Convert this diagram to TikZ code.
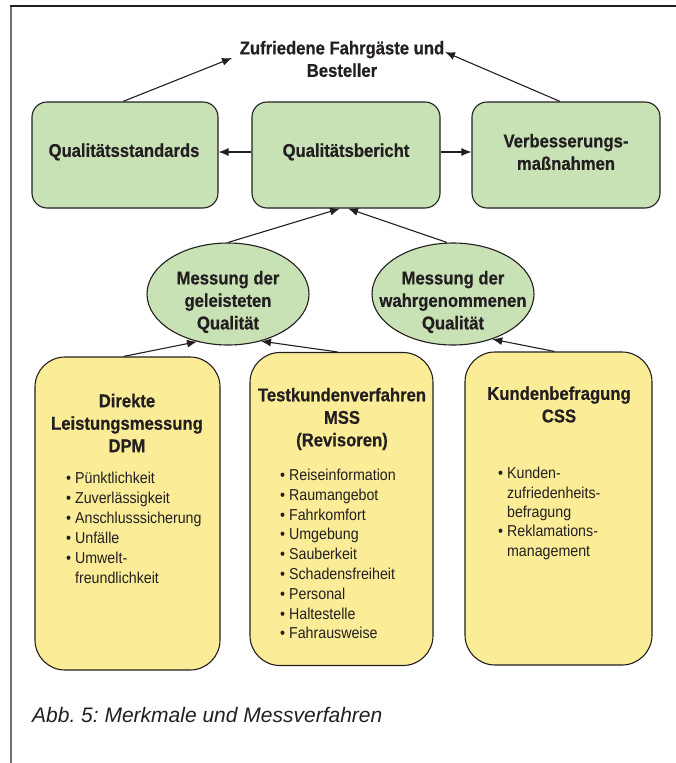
\documentclass[tikz,border=0pt]{standalone}
\usepackage{fontspec}
\newfontfamily\dfont{Liberation Sans}[FakeStretch=0.9, BoldFeatures={FakeBold=0.6}]
\newfontfamily\capfont{Liberation Sans}
\usetikzlibrary{arrows.meta,shapes.geometric,calc}
\definecolor{ink}{HTML}{231F20}
\definecolor{gfill}{HTML}{C8E2B6}
\definecolor{yfill}{HTML}{FBED98}
\definecolor{framegray}{HTML}{707070}
\frenchspacing
\begin{document}
\begin{tikzpicture}[x=1pt,y=-1pt,
  every node/.style={text=ink},
  bold/.style={font=\dfont\bfseries\fontsize{18.5}{22.5}\selectfont, align=center, inner sep=0},
  lst/.style={font=\dfont\fontsize{15.8}{20}\selectfont, align=left, inner sep=0, anchor=west},
  gbox/.style={draw=ink, line width=1.1pt, fill=gfill, rounded corners=15pt, minimum height=106pt, inner sep=0},
  ybox/.style={draw=ink, line width=1.1pt, fill=yfill, rounded corners=30pt, minimum height=313pt, inner sep=0},
  ell/.style={ellipse, draw=ink, line width=1.1pt, fill=gfill, minimum width=162pt, minimum height=102pt, inner sep=0},
  arr/.style={draw=ink, line width=1.1pt, -{Latex[length=10pt,width=8pt]}},
]
\useasboundingbox (0,0) rectangle (676,763);
% frame
\draw[framegray, line width=2pt] (11,6) -- (11,763);
\draw[ink, line width=2pt] (10,6) -- (676,6);

% title
\node[bold] (goal) at (342,59) {Zufriedene Fahrgäste und\\Besteller};
\coordinate (goalL) at (232,58);
\coordinate (goalR) at (445,52);

% green boxes
\node[gbox, minimum width=186pt] (qs) at (125,155) {};
\node[gbox, minimum width=188pt] (qb) at (346,155) {};
\node[gbox, minimum width=188pt] (vm) at (566,155) {};
\node[bold] (qst) at (124,152) {Qualitätsstandards};
\node[bold] (qbt) at (346,152) {Qualitätsbericht};
\node[bold] (vmt) at (566,152) {Verbesserungs-\\maßnahmen};

% ellipses
\node[ell] (e1) at (228,294) {};
\node[ell] (e2) at (453,294) {};
\node[bold] (e1t) at (228,302) {Messung der\\geleisteten\\Qualität};
\node[bold] (e2t) at (453,302) {Messung der\\wahrgenommenen\\Qualität};

% yellow boxes
\node[ybox, minimum width=185pt] (y1) at (127.5,513.5) {};
\node[ybox, minimum width=183pt] (y2) at (341.5,509) {};
\node[ybox, minimum width=187pt] (y3) at (558.5,508.5) {};

\node[bold] (y1t) at (127,423) {Direkte\\Leistungsmessung\\DPM};
\node[bold] (y2t) at (342,419) {Testkundenverfahren\\MSS\\(Revisoren)};
\node[bold] (y3t) at (559,404.5) {Kundenbefragung\\CSS};

\node[lst] (y1l) at (66,528) {\textbullet\ Pünktlichkeit\\
\textbullet\ Zuverlässigkeit\\
\textbullet\ Anschlusssicherung\\
\textbullet\ Unfälle\\
\textbullet\ Umwelt-\\
\hphantom{\textbullet\ }freundlichkeit};

\node[lst, font=\dfont\fontsize{15.8}{19.8}\selectfont] (y2l) at (280,554) {\textbullet\ Reiseinformation\\
\textbullet\ Raumangebot\\
\textbullet\ Fahrkomfort\\
\textbullet\ Umgebung\\
\textbullet\ Sauberkeit\\
\textbullet\ Schadensfreiheit\\
\textbullet\ Personal\\
\textbullet\ Haltestelle\\
\textbullet\ Fahrausweise};

\node[lst, font=\dfont\fontsize{15.8}{19.4}\selectfont] (y3l) at (498,513.5) {\textbullet\ Kunden-\\
\hphantom{\textbullet\ }zufriedenheits-\\
\hphantom{\textbullet\ }befragung\\
\textbullet\ Reklamations-\\
\hphantom{\textbullet\ }management};

% caption
\node[anchor=west, inner sep=0, font=\capfont\itshape\fontsize{21}{24}\selectfont] (cap) at (32,715) {Abb. 5: Merkmale und Messverfahren};

% connectors
\draw[arr] ($(qs.north)+(-2,0)$) -- (goalL);
\draw[arr] ($(vm.north)+(-6,0)$) -- (goalR);
\draw[arr] ($(qb.west)+(0,-3)$) -- ($(qs.east)+(0,-3)$);
\draw[arr] ($(qb.east)+(0,-3)$) -- ($(vm.west)+(0,-3)$);
\draw[arr] (e1.north) -- ($(qb.south)+(-6,0)$);
\draw[arr] ($(e2.north)+(-6,0)$) -- ($(qb.south)+(2,0)$);
\draw[arr] ($(y1.north)+(-4,0)$) -- (e1.237);
\draw[arr] ($(y2.north)+(-4,0)$) -- (e1.305);
\draw[arr] ($(y3.north)+(-4,0)$) -- (e2.311);
\end{tikzpicture}
\end{document}
